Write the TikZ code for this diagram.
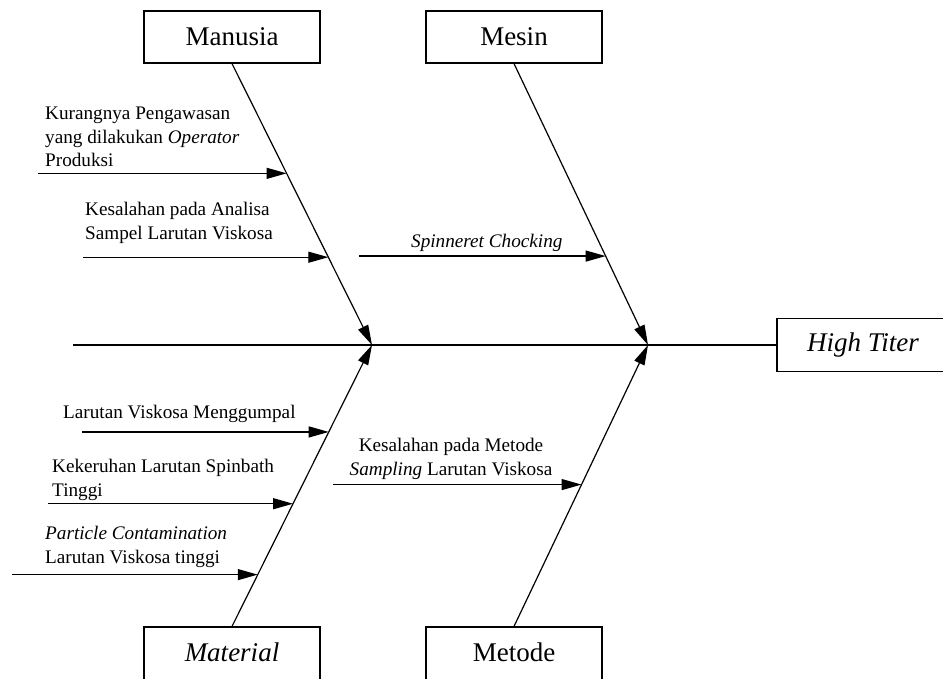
\documentclass[tikz,border=0pt]{standalone}
\usepackage{fontspec}
\setmainfont{Liberation Serif}
\usetikzlibrary{arrows.meta,calc}

\begin{document}
\begin{tikzpicture}[x=1pt, y=-1pt,
  cat/.style={draw, line width=1.2pt, minimum width=176pt, minimum height=52pt, inner sep=0pt,
              font=\fontsize{27}{32}\selectfont},
  why/.style={anchor=north west, inner sep=0pt, align=left, font=\fontsize{19.2}{23.5}\selectfont},
  arr/.style={-{Triangle[length=20pt,width=11pt]}, line width=1.2pt}]
\useasboundingbox (0,0) rectangle (943,679);
% kategori
\node[cat] (man) at (232,37) {Manusia};
\node[cat] (mes) at (514,37) {Mesin};
\node[cat, minimum height=62pt, text depth=12pt] (mat) at (232,658) {\textit{Material}};
\node[cat, minimum height=62pt, text depth=12pt] (met) at (514,658) {Metode};
\node[cat, minimum width=200pt, minimum height=53pt] (ht) at (877,345) {\hspace*{-28pt}\textit{High Titer}};
\coordinate (tail) at (73,345);
\coordinate (j1) at (372,345);
\coordinate (j2) at (648,345);
% tulang utama
\draw[line width=1.2pt] (tail) -- (ht.west);
\draw[arr] (man.south) -- (j1);
\draw[arr] (mat.north) -- (j1);
\draw[arr] (mes.south) -- (j2);
\draw[arr] (met.north) -- (j2);
% penyebab
\coordinate (m1s) at (38,0);
\coordinate (m2s) at (83,0);
\coordinate (s1s) at (359,0);
\coordinate (t1s) at (82,0);
\coordinate (t2s) at (48,0);
\coordinate (t3s) at (12,0);
\coordinate (d1s) at (333,0);
\coordinate (m1) at ($(man.south)!0.39!(j1)$);
\coordinate (m2) at ($(man.south)!0.688!(j1)$);
\coordinate (s1) at ($(mes.south)!0.684!(j2)$);
\coordinate (t1) at ($(mat.north)!0.691!(j1)$);
\coordinate (t2) at ($(mat.north)!0.436!(j1)$);
\coordinate (t3) at ($(mat.north)!0.184!(j1)$);
\coordinate (d1) at ($(met.north)!0.504!(j2)$);
\draw[arr] (m1s |- m1) -- (m1);
\draw[arr] (m2s |- m2) -- (m2);
\draw[arr] (s1s |- s1) -- (s1);
\draw[arr] (t1s |- t1) -- (t1);
\draw[arr] (t2s |- t2) -- (t2);
\draw[arr] (t3s |- t3) -- (t3);
\draw[arr] (d1s |- d1) -- (d1);
\node[why] (m1txt) at (45,107) {Kurangnya Pengawasan\\yang dilakukan \textit{Operator}\\Produksi};
\node[why] (m2txt) at (85,202) {Kesalahan pada Analisa\\Sampel Larutan Viskosa};
\node[why] (s1txt) at (411,234) {\textit{Spinneret Chocking}};
\node[why] (t1txt) at (63,405) {Larutan Viskosa Menggumpal};
\node[why] (t2txt) at (52,459) {Kekeruhan Larutan Spinbath\\Tinggi};
\node[why] (t3txt) at (45,526) {\textit{Particle Contamination}\\Larutan Viskosa tinggi};
\node[why, anchor=north, align=center] (d1txt) at (451,438) {Kesalahan pada Metode\\\textit{Sampling} Larutan Viskosa};
\end{tikzpicture}
\end{document}
